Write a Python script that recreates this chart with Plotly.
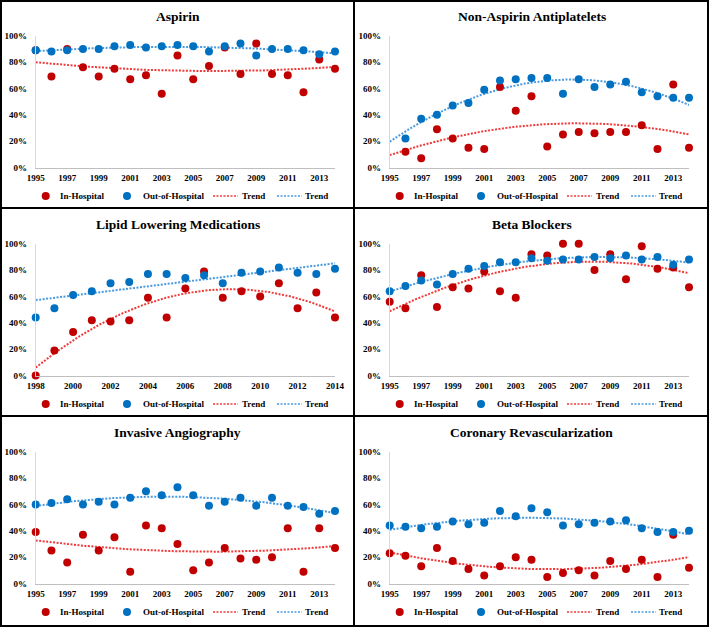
import numpy as np
import plotly.graph_objects as go

# ---------------- data ----------------
years_95 = list(range(1995, 2015))
years_96 = list(range(1996, 2015))
years_98 = list(range(1998, 2015))

aspirin_in = [89, 69, 90, 76, 69, 75, 67, 70, 56, 85, 67, 77, 91, 71, 94, 71, 70, 57, 82, 75]
aspirin_out = [89, 88, 89, 90, 90, 92, 93, 91, 92, 93, 92, 88, 92, 94, 85, 90, 90, 89, 86, 88]

antiplat_in = [12, 7, 29, 22, 15, 14, 61, 43, 54, 16, 25, 27, 26, 27, 27, 32, 14, 63, 15]
antiplat_out = [22, 37, 40, 47, 49, 59, 66, 67, 68, 68, 56, 67, 61, 63, 65, 57, 54, 53, 53]

lipid_in = [0, 19, 33, 42, 41, 42, 59, 44, 66, 79, 59, 64, 60, 70, 51, 63, 44]
lipid_out = [44, 51, 61, 64, 70, 71, 77, 77, 74, 76, 70, 78, 79, 82, 78, 77, 81]

beta_in = [56, 51, 76, 52, 67, 66, 79, 64, 59, 92, 91, 100, 100, 80, 92, 73, 98, 81, 82, 67]
beta_out = [64, 68, 72, 69, 77, 81, 83, 86, 86, 89, 87, 88, 88, 90, 89, 91, 88, 90, 84, 88]

angio_in = [39, 25, 16, 37, 25, 35, 9, 44, 42, 30, 10, 16, 27, 19, 18, 20, 42, 9, 42, 27]
angio_out = [60, 61, 64, 60, 62, 60, 65, 70, 67, 73, 67, 59, 62, 65, 59, 65, 59, 58, 53, 55]

revasc_in = [23, 21, 13, 27, 17, 11, 6, 13, 20, 18, 5, 8, 10, 6, 17, 11, 18, 5, 37, 12]
revasc_out = [44, 43, 42, 43, 47, 45, 46, 55, 51, 57, 54, 44, 45, 46, 47, 48, 42, 39, 39, 40]

titles = ["Aspirin", "Non-Aspirin Antiplatelets", "Lipid Lowering Medications",
          "Beta Blockers", "Invasive Angiography", "Coronary Revascularization"]
legend_labels = ["In-Hospital", "Out-of-Hospital", "Trend", "Trend"]
y_ticks = [0, 20, 40, 60, 80, 100]
y_tick_labels = ["0%", "20%", "40%", "60%", "80%", "100%"]

panels = [
    dict(title=titles[0], x=years_95, yin=aspirin_in, yout=aspirin_out, rng=(1995, 2014), deg_in=2, deg_out=2),
    dict(title=titles[1], x=years_96, yin=antiplat_in, yout=antiplat_out, rng=(1995, 2014), deg_in=2, deg_out=2),
    dict(title=titles[2], x=years_98, yin=lipid_in, yout=lipid_out, rng=(1998, 2014), deg_in=2, deg_out=1),
    dict(title=titles[3], x=years_95, yin=beta_in, yout=beta_out, rng=(1995, 2014), deg_in=2, deg_out=2),
    dict(title=titles[4], x=years_95, yin=angio_in, yout=angio_out, rng=(1995, 2014), deg_in=2, deg_out=2),
    dict(title=titles[5], x=years_95, yin=revasc_in, yout=revasc_out, rng=(1995, 2014), deg_in=2, deg_out=2),
]

# ---------------- style ----------------
W, H = 709, 627
RED = "#C00000"
BLUE = "#0070C0"
RED_T = "#F03A3A"
BLUE_T = "#4A9AE0"
FONT = "Liberation Serif"
DOT = "2px,1.5px"

def px(x):
    return x / W

def py(y):
    return 1 - y / H

fig = go.Figure()
shapes = []
annotations = []
layout_axes = {}

for i, p in enumerate(panels):
    col = i % 2
    row = i // 2
    ox = 0 if col == 0 else 354
    oy = [0, 208, 416][row]
    n = i + 1
    xa = "x" if n == 1 else f"x{n}"
    ya = "y" if n == 1 else f"y{n}"
    xkey = "xaxis" if n == 1 else f"xaxis{n}"
    ykey = "yaxis" if n == 1 else f"yaxis{n}"

    x0p, x1p = ox + 35.7, ox + 335.0
    top, bot = oy + 35.7, oy + 167.5
    lo, hi = p["rng"]

    layout_axes[xkey] = dict(
        domain=[px(x0p), px(x1p)], anchor=ya, range=[lo, hi],
        tickvals=list(range(lo, hi + 1, 2)), showgrid=False, zeroline=False,
        showline=True, linecolor="#BFBFBF", linewidth=1, ticks="",
        tickfont=dict(family=FONT, size=9, color="#000", weight="bold"),
        ticklabelstandoff=2, automargin=False,
    )
    layout_axes[ykey] = dict(
        domain=[py(bot), py(top)], anchor=xa, range=[0, 100],
        tickvals=y_ticks, ticktext=y_tick_labels, showgrid=False, zeroline=False,
        showline=True, linecolor="#D9D9D9", linewidth=1, ticks="",
        tickfont=dict(family=FONT, size=9, color="#000", weight="bold"),
        ticklabelstandoff=6, automargin=False,
    )

    xs = np.array(p["x"], dtype=float)
    xfine = np.linspace(lo, hi, 200)
    for yv, deg, col_t in [(p["yin"], p["deg_in"], RED_T), (p["yout"], p["deg_out"], BLUE_T)]:
        coef = np.polyfit(xs, np.array(yv, dtype=float), deg)
        fig.add_trace(go.Scatter(
            x=xfine, y=np.polyval(coef, xfine), mode="lines", xaxis=xa, yaxis=ya,
            line=dict(color=col_t, width=2, dash=DOT), showlegend=False, hoverinfo="skip",
        ))
    fig.add_trace(go.Scatter(
        x=p["x"], y=p["yin"], mode="markers", xaxis=xa, yaxis=ya, name="In-Hospital",
        marker=dict(color=RED, size=8), showlegend=False, cliponaxis=False,
    ))
    fig.add_trace(go.Scatter(
        x=p["x"], y=p["yout"], mode="markers", xaxis=xa, yaxis=ya, name="Out-of-Hospital",
        marker=dict(color=BLUE, size=8), showlegend=False, cliponaxis=False,
    ))

    annotations.append(dict(
        x=px(ox + 177.5), y=py(oy + 16.5), xref="paper", yref="paper", text=p["title"],
        showarrow=False, xanchor="center", yanchor="middle",
        font=dict(family=FONT, size=13.5, color="#000", weight="bold"),
    ))

    # legend (drawn manually to match the reference spacing)
    ly = oy + 196
    r = 4
    for cx, c in [(ox + 45.7, RED), (ox + 127, BLUE)]:
        shapes.append(dict(type="circle", xref="paper", yref="paper",
                           x0=px(cx - r), x1=px(cx + r), y0=py(ly + r), y1=py(ly - r),
                           fillcolor=c, line=dict(width=0)))
    for (a, b), c in [((ox + 213, ox + 238), RED_T), ((ox + 277, ox + 302), BLUE_T)]:
        shapes.append(dict(type="line", xref="paper", yref="paper",
                           x0=px(a), x1=px(b), y0=py(ly), y1=py(ly),
                           line=dict(color=c, width=1.5, dash=DOT)))
    for tx, label in zip([ox + 58, ox + 141, ox + 240, ox + 303], legend_labels):
        annotations.append(dict(
            x=px(tx), y=py(ly), xref="paper", yref="paper", text=label, showarrow=False,
            xanchor="left", yanchor="middle",
            font=dict(family=FONT, size=9, color="#000", weight="bold"),
        ))

# panel borders
bl = dict(color="#000", width=2)
shapes += [
    dict(type="rect", xref="paper", yref="paper", x0=px(1), x1=px(708), y0=py(626), y1=py(1), line=bl),
    dict(type="line", xref="paper", yref="paper", x0=px(354), x1=px(354), y0=0, y1=1, line=bl),
    dict(type="line", xref="paper", yref="paper", x0=0, x1=1, y0=py(208), y1=py(208), line=bl),
    dict(type="line", xref="paper", yref="paper", x0=0, x1=1, y0=py(416), y1=py(416), line=bl),
]

fig.update_layout(
    width=W, height=H, margin=dict(l=0, r=0, t=0, b=0, autoexpand=False),
    paper_bgcolor="white", plot_bgcolor="white",
    shapes=shapes, annotations=annotations, showlegend=False,
    **layout_axes,
)

# remove the default 8px page margin right after the plot is created
page_css = "document.body.style.margin='0';document.body.style.overflow='hidden';"
post = "}); " + page_css + " Promise.resolve().then(function(){ " + page_css

fig.write_html(
    "out.html",
    config={"displayModeBar": False},
    post_script=post,
)
